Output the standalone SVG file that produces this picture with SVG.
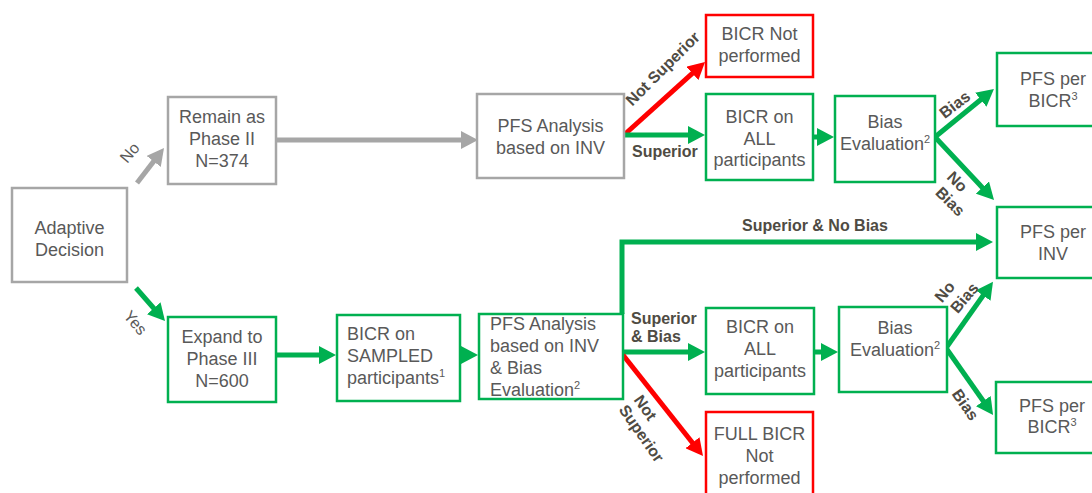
<svg xmlns="http://www.w3.org/2000/svg" width="1092" height="493" viewBox="0 0 1092 493">
<defs>
<style>
.box{fill:#fff;stroke-width:2.5}
.g{stroke:#00b050}
.r{stroke:#ff0000}
.k{stroke:#a6a6a6}
.t{font-family:"Liberation Sans",Arial,sans-serif;font-size:18px;fill:#595959;text-anchor:middle}
.tl{text-anchor:start}
.sup{font-size:11px}
.lb{font-family:"Liberation Sans",Arial,sans-serif;font-size:16px;font-weight:bold;fill:#4f4b43}
.ln{font-family:"Liberation Sans",Arial,sans-serif;font-size:16px;fill:#595959;text-anchor:middle}
.c{fill:none;stroke-width:5;stroke-linecap:butt}
.cg{stroke:#00b050}
.cr{stroke:#ff0000}
.ck{stroke:#a6a6a6}
</style>
<marker id="ag" markerUnits="userSpaceOnUse" markerWidth="17" markerHeight="18" refX="7" refY="9" orient="auto"><path d="M0,0 L17,9 L0,18 z" fill="#00b050"/></marker>
<marker id="ar" markerUnits="userSpaceOnUse" markerWidth="17" markerHeight="18" refX="7" refY="9" orient="auto"><path d="M0,0 L17,9 L0,18 z" fill="#ff0000"/></marker>
<marker id="ak" markerUnits="userSpaceOnUse" markerWidth="17" markerHeight="18" refX="7" refY="9" orient="auto"><path d="M0,0 L17,9 L0,18 z" fill="#a6a6a6"/></marker>
</defs>
<rect width="1092" height="493" fill="#fff"/>

<g id="connectors">
<path class="c ck" d="M137,183 L157.9,155.9" marker-end="url(#ak)"/>
<path class="c cg" d="M136,288 L158.4,313.5" marker-end="url(#ag)"/>
<path class="c ck" d="M276,140 L468,140" marker-end="url(#ak)"/>
<path class="c cr" d="M624,135 L697.6,68.7" marker-end="url(#ar)"/>
<path class="c cg" d="M624,135 L695,135" marker-end="url(#ag)"/>
<path class="c cg" d="M813,137 L824,137" marker-end="url(#ag)"/>
<path class="c cg" d="M935,137 L986.2,95.3" marker-end="url(#ag)"/>
<path class="c cg" d="M935,137 L987.2,192.7" marker-end="url(#ag)"/>
<path class="c cg" d="M276,355 L326,355" marker-end="url(#ag)"/>
<path class="c cg" d="M460,355 L468,355" marker-end="url(#ag)"/>
<path class="c cg" d="M622,314 V242 H983" marker-end="url(#ag)"/>
<path class="c cg" d="M623,352 L695,352" marker-end="url(#ag)"/>
<path class="c cr" d="M623,355 L696.8,448.2" marker-end="url(#ar)"/>
<path class="c cg" d="M814,352 L828,352" marker-end="url(#ag)"/>
<path class="c cg" d="M946,348 L987.2,289.8" marker-end="url(#ag)"/>
<path class="c cg" d="M946,348 L987.3,406.8" marker-end="url(#ag)"/>

<text class="ln" transform="translate(130,153) rotate(-50)" y="5">No</text>
<text class="ln" transform="translate(135,323) rotate(50)" y="5">Yes</text>
<text class="lb" text-anchor="middle" transform="translate(663,69) rotate(-45)" y="5">Not Superior</text>
<text class="lb" x="632" y="157">Superior</text>
<text class="lb" text-anchor="middle" transform="translate(955,105) rotate(-38)" y="5">Bias</text>
<text class="lb" text-anchor="middle" transform="translate(957,182) rotate(45)"><tspan x="0" y="5">No</tspan><tspan x="9" y="24">Bias</tspan></text>
<text class="lb" text-anchor="middle" x="815" y="231">Superior &amp; No Bias</text>
<text class="lb" x="631" y="324">Superior</text>
<text class="lb" x="631" y="342">&amp; Bias</text>
<text class="lb" text-anchor="middle" transform="translate(645,408) rotate(55)"><tspan x="0" y="5">Not</tspan><tspan x="19" y="23">Superior</tspan></text>
<text class="lb" text-anchor="middle" transform="translate(945,292) rotate(-50)"><tspan x="0" y="5">No</tspan><tspan x="8" y="24">Bias</tspan></text>
<text class="lb" text-anchor="middle" transform="translate(965,405) rotate(55)" y="5">Bias</text>
</g>

<g id="adaptive">
<rect class="box k" x="12" y="188" width="115" height="94"/>
<text class="t" x="69.5" y="234">Adaptive</text>
<text class="t" x="69.5" y="256">Decision</text>
</g>
<g id="remain">
<rect class="box k" x="168" y="97" width="108" height="87"/>
<text class="t" x="222" y="123">Remain as</text>
<text class="t" x="222" y="145">Phase II</text>
<text class="t" x="222" y="167">N=374</text>
</g>
<g id="expand">
<rect class="box g" x="168" y="317" width="108" height="85"/>
<text class="t" x="222" y="343">Expand to</text>
<text class="t" x="222" y="365">Phase III</text>
<text class="t" x="222" y="387">N=600</text>
</g>
<g id="pfs_inv_top">
<rect class="box k" x="477" y="94" width="147" height="84"/>
<text class="t" x="550.5" y="132">PFS Analysis</text>
<text class="t" x="550.5" y="154">based on INV</text>
</g>
<g id="bicr_not_top">
<rect class="box r" x="706" y="15" width="107" height="62"/>
<text class="t" x="759.5" y="40">BICR Not</text>
<text class="t" x="759.5" y="62">performed</text>
</g>
<g id="bicr_all_top">
<rect class="box g" x="706" y="94" width="107" height="86"/>
<text class="t" x="759.5" y="123">BICR on</text>
<text class="t" x="759.5" y="145">ALL</text>
<text class="t" x="759.5" y="166">participants</text>
</g>
<g id="bias_top">
<rect class="box g" x="835" y="96" width="100" height="86"/>
<text class="t" x="885" y="128">Bias</text>
<text class="t" x="885" y="150">Evaluation<tspan class="sup" dy="-7">2</tspan></text>
</g>
<g id="pfs_bicr_top">
<rect class="box g" x="997" y="53" width="115" height="73"/>
<text class="t" x="1053" y="85">PFS per</text>
<text class="t" x="1053" y="107">BICR<tspan class="sup" dy="-7">3</tspan></text>
</g>
<g id="pfs_inv">
<rect class="box g" x="997" y="207" width="115" height="71"/>
<text class="t" x="1053" y="238">PFS per</text>
<text class="t" x="1053" y="260">INV</text>
</g>
<g id="bicr_sampled">
<rect class="box g" x="337" y="315" width="123" height="86"/>
<text class="t tl" x="347" y="340">BICR on</text>
<text class="t tl" x="347" y="362">SAMPLED</text>
<text class="t tl" x="347" y="384">participants<tspan class="sup" dy="-7">1</tspan></text>
</g>
<g id="pfs_low">
<rect class="box g" x="479" y="314" width="144" height="85"/>
<text class="t tl" x="490" y="330">PFS Analysis</text>
<text class="t tl" x="490" y="352">based on INV</text>
<text class="t tl" x="490" y="374">&amp; Bias</text>
<text class="t tl" x="490" y="396">Evaluation<tspan class="sup" dy="-7">2</tspan></text>
</g>
<g id="bicr_all_low">
<rect class="box g" x="706" y="308" width="108" height="86"/>
<text class="t" x="760" y="333">BICR on</text>
<text class="t" x="760" y="355">ALL</text>
<text class="t" x="760" y="377">participants</text>
</g>
<g id="bias_low">
<rect class="box g" x="839" y="307" width="108" height="85"/>
<text class="t" x="895" y="334">Bias</text>
<text class="t" x="895" y="356">Evaluation<tspan class="sup" dy="-7">2</tspan></text>
</g>
<g id="pfs_bicr_low">
<rect class="box g" x="996" y="382" width="116" height="71"/>
<text class="t" x="1052" y="412">PFS per</text>
<text class="t" x="1052" y="433">BICR<tspan class="sup" dy="-7">3</tspan></text>
</g>
<g id="full_bicr">
<rect class="box r" x="706" y="412" width="107" height="90"/>
<text class="t" x="759.5" y="440">FULL BICR</text>
<text class="t" x="759.5" y="462">Not</text>
<text class="t" x="759.5" y="484">performed</text>
</g>
</svg>
